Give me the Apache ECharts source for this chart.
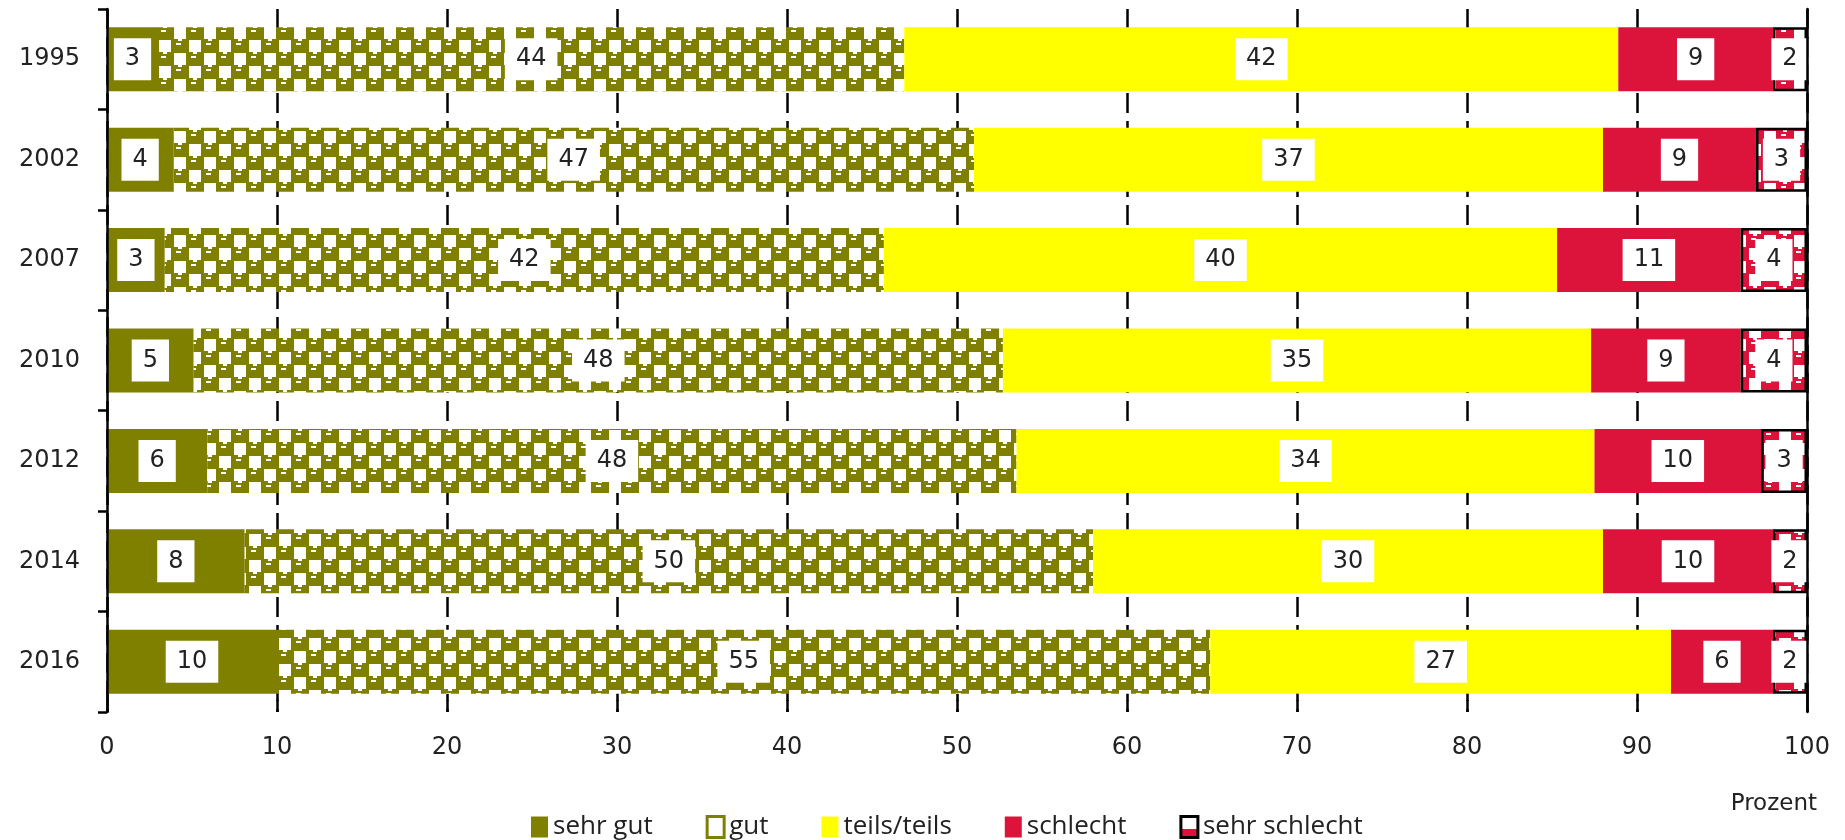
<!DOCTYPE html>
<html>
<head>
<meta charset="utf-8">
<title>Bewertung</title>
<script src="https://cdn.jsdelivr.net/npm/echarts@6/dist/echarts.min.js"></script>
<style>
  html, body { margin: 0; padding: 0; background: #fff; }
  #chart { width: 1845px; height: 840px; }
</style>
</head>
<body>
<div id="chart"></div>
<script>
// Survey years (top to bottom) and shares per answer, in percent
const years = ['1995', '2002', '2007', '2010', '2012', '2014', '2016'];
const sehrGut = [3.0, 3.9, 3.4, 5.1, 5.9, 8.1, 10.0];
const gut = [43.9, 47.1, 42.3, 47.6, 47.6, 49.9, 54.9];
const teilsTeils = [42.0, 37.0, 39.6, 34.6, 34.0, 30.0, 27.1];
const schlecht = [9.1, 9.0, 10.8, 8.8, 9.8, 10.0, 6.0];
const sehrSchlecht = [2.0, 3.0, 3.9, 3.9, 2.7, 2.0, 2.0];
const xTicks = { min: 0, max: 100, interval: 10 };

const OLIVE = '#808000';
const YELLOW = '#FFFF00';
const CRIMSON = '#DC143C';
const FONT = 'DejaVu Sans';

// Repeating "cup" tile used for the hatched segments
function makeTile(color) {
  const w = 30, h = 26;
  const c = document.createElement('canvas');
  c.width = w; c.height = h;
  const g = c.getContext('2d');
  g.fillStyle = '#fff';
  g.fillRect(0, 0, w, h);
  const cup = (x, y) => {
    for (const dx of [0, -w]) {
      for (const dy of [0, -h]) {
        g.fillStyle = color;
        g.fillRect(x + dx, y + dy, 18, 14);
        g.fillStyle = '#fff';
        g.fillRect(x + dx + 7, y + dy, 4, 2);
        g.fillRect(x + dx + 5, y + dy + 4, 5, 2);
      }
    }
  };
  cup(6, 0);
  cup(21, 13);
  return { image: c, repeat: 'repeat' };
}

const labelStyle = {
  show: true,
  position: 'inside',
  formatter: p => String(Math.round(p.value)),
  color: '#222',
  fontFamily: FONT,
  fontSize: 24,
  lineHeight: 24,
  backgroundColor: '#fff',
  padding: [9, 11, 9, 11]
};

function barSeries(name, data, itemStyle) {
  return {
    name, type: 'bar', stack: 'total', data,
    barWidth: 64,
    itemStyle,
    label: labelStyle,
    emphasis: { disabled: true }
  };
}

const chart = echarts.init(document.getElementById('chart'));
chart.setOption({
  animation: false,
  grid: { left: 107, right: 38, top: 9, bottom: 128 },
  legend: {
    left: 531, top: 814, padding: 0,
    itemWidth: 17, itemHeight: 21, itemGap: 53,
    icon: 'rect',
    textStyle: { fontFamily: 'Open Sans', fontSize: 26, color: '#222' },
    data: [
      { name: 'sehr gut' },
      { name: 'gut', itemStyle: { color: '#fff', borderColor: OLIVE, borderWidth: 3 } },
      { name: 'teils/teils' },
      { name: 'schlecht' },
      {
        name: 'sehr schlecht',
        itemStyle: {
          color: {
            type: 'linear', x: 0, y: 0, x2: 0, y2: 1,
            colorStops: [
              { offset: 0, color: '#fff' }, { offset: 0.6, color: '#fff' },
              { offset: 0.6, color: CRIMSON }, { offset: 1, color: CRIMSON }
            ]
          },
          borderColor: '#000', borderWidth: 3
        }
      }
    ]
  },
  xAxis: {
    type: 'value',
    min: xTicks.min, max: xTicks.max, interval: xTicks.interval,
    name: 'Prozent',
    nameLocation: 'end',
    nameGap: 10,
    nameTextStyle: {
      fontFamily: FONT, fontSize: 23, color: '#222',
      align: 'right', verticalAlign: 'top', padding: [81, 0, 0, 0]
    },
    axisLine: { lineStyle: { color: '#000', width: 2.5 } },
    axisTick: { show: true, inside: true, length: 12, lineStyle: { color: '#000', width: 2.5 } },
    axisLabel: { fontFamily: FONT, fontSize: 24, color: '#222', margin: 24 },
    splitLine: { show: true, lineStyle: { color: '#000', width: 2.5, type: [20, 8] } }
  },
  yAxis: [
    {
      type: 'category', data: years, inverse: true, z: 3,
      axisLine: { lineStyle: { color: '#000', width: 2.5 } },
      axisTick: { show: true, length: 9, lineStyle: { color: '#000', width: 2.5 } },
      axisLabel: { fontFamily: FONT, fontSize: 24, color: '#222', margin: 27 },
      splitLine: { show: false }
    },
    {
      type: 'category', data: years, inverse: true, position: 'right', z: 3,
      axisLine: { show: true, lineStyle: { color: '#000', width: 2.5 } },
      axisTick: { show: false },
      axisLabel: { show: false },
      splitLine: { show: false }
    }
  ],
  series: [
    barSeries('sehr gut', sehrGut, { color: OLIVE }),
    barSeries('gut', gut, { color: makeTile(OLIVE) }),
    barSeries('teils/teils', teilsTeils, { color: YELLOW }),
    barSeries('schlecht', schlecht, { color: CRIMSON }),
    barSeries('sehr schlecht', sehrSchlecht, { color: makeTile(CRIMSON), borderColor: '#000', borderWidth: 2.5 })
  ]
});
</script>
</body>
</html>
